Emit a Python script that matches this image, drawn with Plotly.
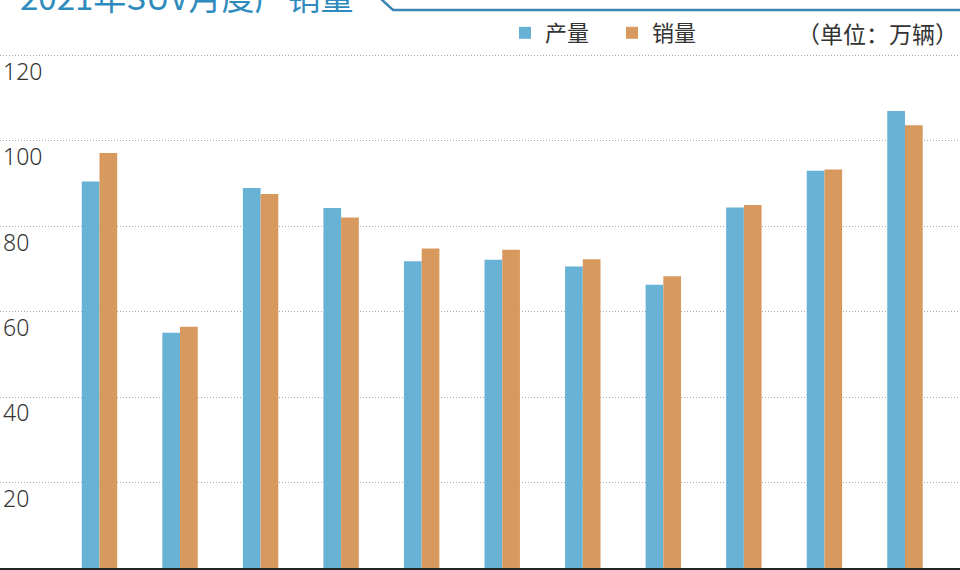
import plotly.graph_objects as go

# ── Data (万辆) ────────────────────────────────────────────────────────────────
MONTHS = ["1月", "2月", "3月", "4月", "5月", "6月", "7月", "8月", "9月", "10月", "11月"]
PRODUCTION = [90.5, 55.1, 89.0, 84.3, 71.8, 72.2, 70.6, 66.3, 84.4, 93.0, 107.0]
SALES = [97.2, 56.5, 87.6, 82.1, 74.8, 74.5, 72.3, 68.3, 85.0, 93.3, 103.7]
Y_TICKS = [20, 40, 60, 80, 100, 120]

COLOURS = {
    "产量": "#68b2d6",
    "销量": "#d8995f",
    "title": "#2f8bbd",
    "rule": "#3a85b5",
}

W, H = 960, 570
PLOT_H = 568  # plot area height in px (margin t=0, b=2)


def px_to_paper(px, py):
    return px / W, 1 - py / PLOT_H


fig = go.Figure()
for name, values in [("产量", PRODUCTION), ("销量", SALES)]:
    fig.add_trace(go.Bar(
        x=MONTHS, y=values, name=name,
        marker=dict(color=COLOURS[name], line=dict(width=0)),
    ))

# ── Decorative header rule ─────────────────────────────────────────────────────
x0, y0 = px_to_paper(380, -2)
x1, y1 = px_to_paper(393, 10)
x2, y2 = px_to_paper(962, 10)
fig.add_shape(
    type="path", xref="paper", yref="paper",
    path=f"M {x0},{y0} L {x1},{y1} L {x2},{y2}",
    line=dict(color=COLOURS["rule"], width=2.5),
)

fig.add_annotation(
    text="2021年SUV月度产销量", xref="paper", yref="paper",
    x=18 / W, y=1, xanchor="left", yanchor="bottom", yshift=-22,
    showarrow=False,
    font=dict(family="Noto Sans CJK SC", size=33, color=COLOURS["title"]),
)
fig.add_annotation(
    text="（单位：万辆）", xref="paper", yref="paper",
    x=1, y=1 - 33 / PLOT_H, xanchor="right", yanchor="middle",
    showarrow=False,
    font=dict(family="Noto Sans CJK SC", size=23, color="#333333"),
)

fig.update_layout(
    width=W, height=H,
    margin=dict(l=0, r=0, t=0, b=2),
    paper_bgcolor="white", plot_bgcolor="white",
    barmode="group", bargap=0.56, bargroupgap=0,
    font=dict(family="Noto Sans CJK SC", color="#333333"),
    showlegend=True,
    legend=dict(
        orientation="h", x=505 / W, y=1 - 33 / PLOT_H,
        xanchor="left", yanchor="middle",
        font=dict(size=22, color="#333333"),
        bgcolor="rgba(0,0,0,0)",
        itemwidth=30, entrywidth=62,
    ),
)
fig.update_xaxes(
    type="category", range=[-1.235, 10.683],
    showticklabels=False, ticks="",
    showline=True, linecolor="#222222", linewidth=2,
    showgrid=False,
)
fig.update_yaxes(
    range=[0, 133], tickvals=Y_TICKS,
    ticklabelposition="inside bottom",
    tickfont=dict(family="Noto Sans", size=23, color="#333333", weight=300),
    showgrid=True, gridcolor="#a8a8a8", gridwidth=1, griddash="1px,2px",
    zeroline=False, showline=False, ticks="",
)

fig.write_html(
    "out.html",
    config={"displayModeBar": False},
    post_script="document.body.style.margin='0';",
)
